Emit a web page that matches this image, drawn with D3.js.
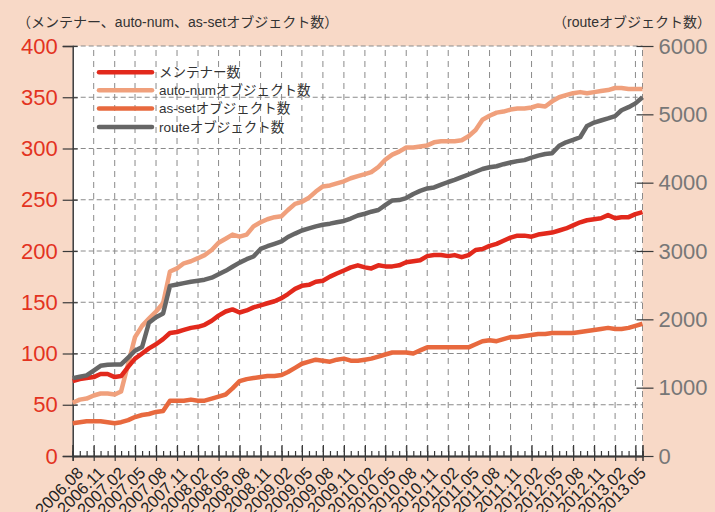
<!DOCTYPE html>
<html><head><meta charset="utf-8">
<script src="https://cdn.jsdelivr.net/npm/d3@7"></script>
<style>
body{margin:0;background:#f8d9c7;}
svg{display:block;}
text{font-family:"Liberation Sans","Noto Sans CJK JP",sans-serif;}
</style>
</head><body>
<svg id="c" width="715" height="512"></svg>
<script>
// ---- data ----
const startMonth = new Date(2006, 7, 1);   // 2006.08
const endMonth   = new Date(2013, 5, 1);   // 2013.06
const months = d3.timeMonth.range(startMonth, d3.timeMonth.offset(endMonth, 1));

const tickLabels = ["2006.08","2006.11","2007.02","2007.05","2007.08","2007.11","2008.02","2008.05",
  "2008.08","2008.11","2009.02","2009.05","2009.08","2009.11","2010.02","2010.05","2010.08","2010.11",
  "2011.02","2011.05","2011.08","2011.11","2012.02","2012.05","2012.08","2012.11","2013.02","2013.05"];

const leftTicks = [0,50,100,150,200,250,300,350,400];
const rightTicks = [0,1000,2000,3000,4000,5000,6000];

const seriesNames = ["メンテナー数","auto-numオブジェクト数","as-setオブジェクト数","routeオブジェクト数"];

const maintainers = [73,75,76,77,80,80,77,78,87,95,100,105,109,114,120,121,123,125,126,128,
  132,137,141,143,140,142,145,147,149,151,154,158,163,166,167,170,171,175,178,181,
  184,186,184,183,186,185,185,186,189,190,191,195,196,196,195,196,194,196,201,202,
  205,207,210,213,215,215,214,216,217,218,220,222,225,228,230,231,232,235,232,233,233,236,238];

const autoNum = [52,55,56,59,61,61,60,63,90,116,127,134,141,149,180,183,188,190,193,196,
  201,208,212,216,214,216,224,228,231,233,234,240,246,248,252,258,263,264,266,268,
  271,273,275,277,282,289,294,297,301,301,302,303,306,307,307,307,308,312,318,328,
  332,335,336,338,339,339,340,342,341,346,350,352,354,355,354,355,356,357,359,359,358,358,358];

const asSet = [32,33,34,34,34,33,32,33,35,38,40,41,43,44,54,54,54,55,54,54,
  56,58,60,66,73,75,76,77,78,78,79,82,86,90,92,94,93,92,94,95,
  93,93,94,95,97,99,101,101,101,100,103,106,106,106,106,106,106,106,109,112,
  113,112,114,116,116,117,118,119,119,120,120,120,120,121,122,123,124,125,124,124,125,127,129];

const routeObj = [1140,1160,1180,1250,1320,1335,1340,1340,1440,1540,1595,1950,2030,2085,2490,2510,2530,2550,2565,2580,
  2610,2660,2710,2770,2830,2880,2920,3030,3070,3105,3140,3205,3255,3300,3330,3360,3385,3400,3420,3440,
  3475,3520,3545,3575,3600,3670,3740,3745,3775,3835,3880,3915,3930,3970,4010,4040,4080,4120,4160,4200,
  4225,4240,4270,4295,4315,4330,4365,4395,4420,4430,4540,4590,4625,4665,4830,4880,4910,4940,4975,5060,5105,5160,5250];

// ---- layout ----
const L = 72.7, R = 642.5, T = 46, B = 456;
const colors = {maint:"#e2291c", auto:"#f0a07c", asset:"#e8693e", route:"#666666"};

const svg = d3.select("#c");
svg.append("rect").attr("width",715).attr("height",512).attr("fill","#f8d9c7");
svg.append("rect").attr("x",L).attr("y",T).attr("width",R-L).attr("height",B-T).attr("fill","#ffffff");

const parseLabel = s => new Date(+s.slice(0,4), +s.slice(5,7)-1, 1);
const majorDates = tickLabels.map(parseLabel);

const x = d3.scaleTime().domain([months[0], months[months.length-1]]).range([L, R]);
const yL = d3.scaleLinear().domain([0,400]).range([B, T]);
const yR = d3.scaleLinear().domain([0,6000]).range([B, T]);

// grid
const grid = svg.append("g");
grid.selectAll("line.v").data(majorDates.slice(1).concat([months[months.length-1]])).join("line")
  .attr("x1",d=>x(d)).attr("x2",d=>x(d)).attr("y1",T).attr("y2",B)
  .attr("stroke","#8a8a8a").attr("stroke-width",1).attr("stroke-dasharray","6,5").attr("stroke-dashoffset",-4);
grid.selectAll("line.h").data(leftTicks.slice(1)).join("line")
  .attr("x1",L).attr("x2",R).attr("y1",d=>yL(d)).attr("y2",d=>yL(d))
  .attr("stroke","#8a8a8a").attr("stroke-width",1).attr("stroke-dasharray","5,3");

// x axis: minor ticks (monthly), major ticks crossing
const axC = "#3a3a3a";
const minorAx = d3.axisBottom(x).tickValues(months).tickSize(-5).tickFormat("");
const gMinor = svg.append("g").attr("transform",`translate(0,${B})`).call(minorAx);
const majUp = d3.axisBottom(x).tickValues(majorDates).tickSize(-11).tickFormat("");
const gUp = svg.append("g").attr("transform",`translate(0,${B})`).call(majUp);
const majDown = d3.axisBottom(x).tickValues(majorDates).tickSize(5).tickFormat((d,i)=>tickLabels[i]);
const gDown = svg.append("g").attr("transform",`translate(0,${B})`).call(majDown);
[gMinor,gUp,gDown].forEach(g=>{
  g.select(".domain").attr("stroke",axC).attr("stroke-width",1.5);
  g.selectAll(".tick line").attr("stroke",axC).attr("stroke-width",1.2);
});
gDown.selectAll(".tick text")
  .attr("font-size",16.5).attr("fill","#222")
  .attr("text-anchor","end").attr("dy",null).attr("y",0)
  .attr("transform","translate(11,18) rotate(-45)");

// left axis
const gL = svg.append("g").attr("transform",`translate(${L},0)`)
  .call(d3.axisLeft(yL).tickValues(leftTicks).tickSize(10).tickPadding(5));
gL.select(".domain").attr("stroke",axC).attr("stroke-width",1.5);
gL.selectAll(".tick line").attr("stroke",axC).attr("stroke-width",1.2).attr("x2",5).attr("x1",-10);
gL.selectAll(".tick text").attr("font-size",22).attr("fill","#e3331f").attr("x",-15);

// right axis
const gR = svg.append("g").attr("transform",`translate(${R},0)`)
  .call(d3.axisRight(yR).tickValues(rightTicks).tickSize(11).tickPadding(5).tickFormat(d3.format("d")));
gR.select(".domain").remove();
gR.selectAll(".tick line").attr("stroke",axC).attr("stroke-width",1.2).attr("x1",-6).attr("x2",11);
gR.selectAll(".tick text").attr("font-size",22).attr("fill","#777").attr("x",16);

// lines
const mk = (vals, scale) => d3.line().x((d,i)=>x(months[i])).y(d=>scale(d))(vals);
const plot = [
  {v:autoNum, s:yL, c:colors.auto},
  {v:asSet, s:yL, c:colors.asset},
  {v:maintainers, s:yL, c:colors.maint},
  {v:routeObj, s:yR, c:colors.route}
];
plot.forEach(p=>{
  svg.append("path").attr("d",mk(p.v,p.s)).attr("fill","none")
    .attr("stroke",p.c).attr("stroke-width",4.5).attr("stroke-linejoin","round");
});

// titles
svg.append("text").attr("x",17).attr("y",27).attr("font-size",14).attr("fill","#333")
  .text("（メンテナー、auto-num、as-setオブジェクト数）");
svg.append("text").attr("x",711).attr("y",27).attr("font-size",14).attr("fill","#333")
  .attr("text-anchor","end").text("（routeオブジェクト数）");

// legend
const legColors = [colors.maint, colors.auto, colors.asset, colors.route];
const legY = [72.3, 90.3, 108.5, 127];
const lg = svg.append("g");
seriesNames.forEach((n,i)=>{
  lg.append("line").attr("x1",99).attr("x2",152).attr("y1",legY[i]).attr("y2",legY[i])
    .attr("stroke",legColors[i]).attr("stroke-width",4.5).attr("stroke-linecap","round");
  lg.append("text").attr("x",159).attr("y",legY[i]).attr("dy","0.35em")
    .attr("font-size",13.5).attr("fill","#333").text(n);
});
</script>
</body></html>
